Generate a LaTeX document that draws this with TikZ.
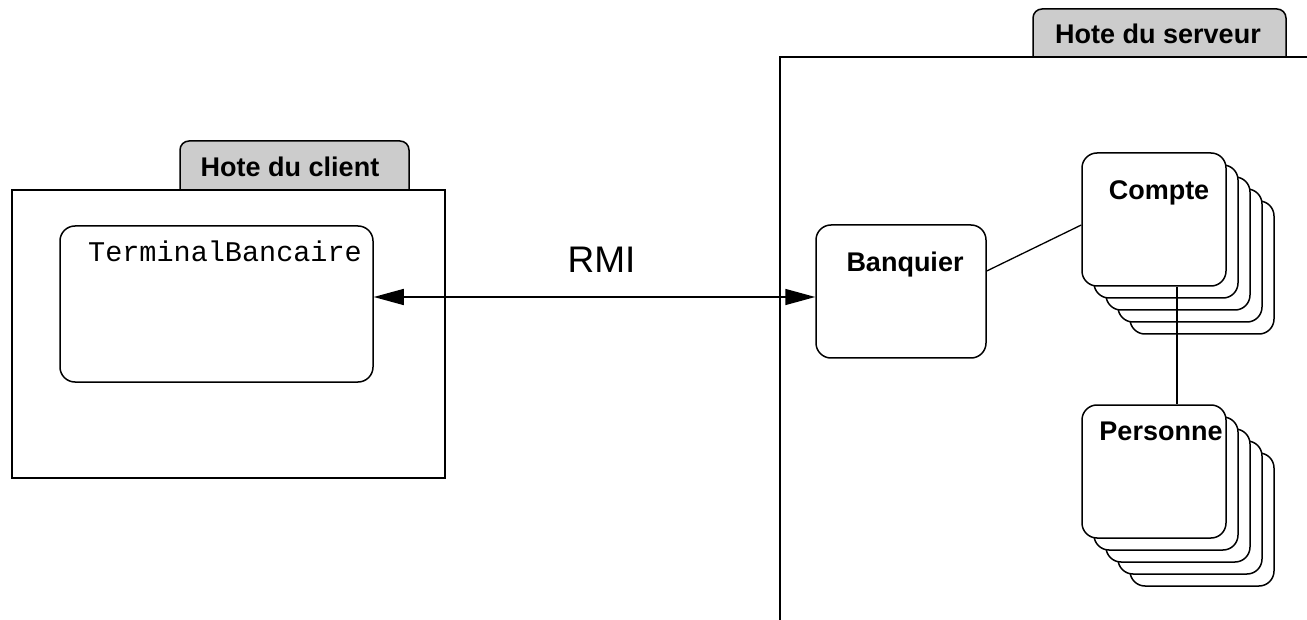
\documentclass[tikz,border=0pt]{standalone}
\usepackage{fontspec}
\setmainfont{Liberation Sans}
\setmonofont{Liberation Mono}
\usetikzlibrary{arrows.meta}

\begin{document}
\begin{tikzpicture}[x=1pt, y=-1pt,
      every node/.style = {inner sep=0pt},
      hostbox/.style = {draw, line width=1.5pt, fill=white},
      hosttab/.style = {draw, line width=1.5pt, fill=gray!40, rounded corners=9pt},
      objbox/.style = {draw, line width=1.5pt, fill=white, rounded corners=15pt},
      boxname/.style = {anchor=base, font=\fontsize{27}{30}\selectfont\bfseries},
      link/.style = {line width=1.3pt},
      rmitip/.tip = {Triangle[length=30pt, width=16pt]}]
  \useasboundingbox (0,0) rectangle (1307,620);

  % client host
  \draw[hosttab] (180,190) -- (180,141) -- (409,141) -- (409,190);
  \node[boxname] (clienttab) at (290,177) {Hote du client};
  \node[hostbox, minimum width=433pt, minimum height=288pt] (client) at (228.5,334) {};
  \node[objbox, minimum width=313pt, minimum height=156pt] (tb) at (216.5,304) {};
  \node[anchor=base, font=\fontsize{28.5}{30}\selectfont\ttfamily] (tbname) at (225,262) {TerminalBancaire};

  % server host
  \draw[hosttab] (1033,57) -- (1033,9) -- (1286,9) -- (1286,57);
  \node[boxname] (servertab) at (1158,44) {Hote du serveur};
  \draw[link, line width=1.5pt] (1307,57) -- (780,57) -- (780,620);

  \node[objbox, minimum width=170pt, minimum height=133pt] (bq) at (901,291.5) {};
  \node[boxname] (bqname) at (905,272) {Banquier};

  \foreach \k in {4,3,2,1}
    \draw[objbox] (1082+12*\k,153+12*\k) rectangle ++(144,133);
  \node[objbox, minimum width=144pt, minimum height=133pt] (compte) at (1154,219.5) {};
  \node[boxname] (comptename) at (1159,200) {Compte};

  \foreach \k in {4,3,2,1}
    \draw[objbox] (1082+12*\k,405+12*\k) rectangle ++(144,133);
  \node[objbox, minimum width=144pt, minimum height=133pt] (pers) at (1154,471.5) {};
  \node[boxname] (persname) at (1161,440) {Personne};

  % links
  \draw[link, line width=1.5pt, rmitip-rmitip] ([yshift=7pt]tb.east) -- ([yshift=7pt]tb.east -| bq.west);
  \node[anchor=base, font=\fontsize{37}{40}\selectfont] (rmi) at (601.5,273) {RMI};
  \draw[link] ([yshift=20.5pt]bq.east) -- ([yshift=-5.5pt]compte.west);
  \draw[link] ([xshift=23pt]compte.south) -- ([xshift=23pt]pers.north);
\end{tikzpicture}
\end{document}
